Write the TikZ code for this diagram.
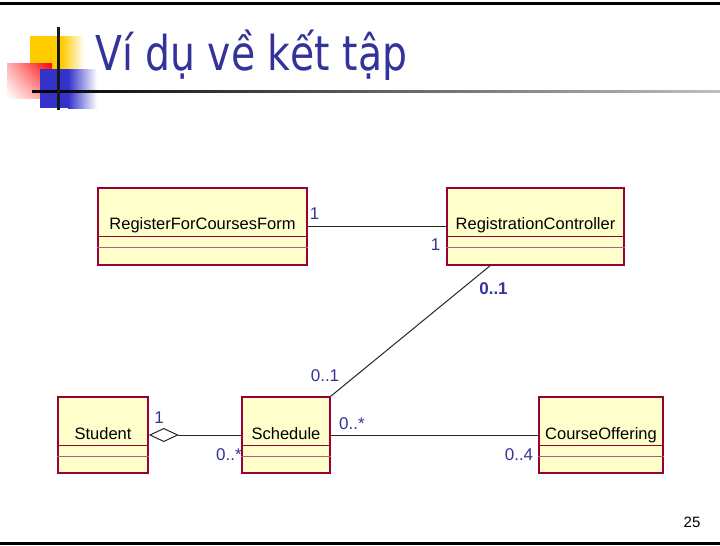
\documentclass[tikz,border=0pt]{standalone}
\usepackage{fontspec}
\setmainfont{Liberation Sans}
\newfontfamily\titlefont{DejaVu Sans}
\usetikzlibrary{arrows.meta,shadings}
\definecolor{umlfill}{HTML}{FFFFCC}
\definecolor{umlline}{HTML}{990033}
\definecolor{multblue}{HTML}{333399}
\definecolor{decoyellow}{HTML}{FFCC00}
\definecolor{decoblue}{HTML}{3333CC}
\tikzset{
  umlclass/.style={draw=umlline, fill=umlfill, line width=1.6pt, inner sep=0pt},
  umlname/.style={anchor=base, inner sep=0pt, font=\fontsize{16.5}{19}\selectfont},
  mult/.style={text=multblue, inner sep=0pt, font=\fontsize{17}{20}\selectfont},
  assoc/.style={draw=black!85, line width=1pt}
}

\begin{document}
\begin{tikzpicture}[x=1pt, y=-1pt]
  \useasboundingbox (0,0) rectangle (720,546);
  \fill[white] (0,0) rectangle (720,546);
  \fill[black] (0,2) rectangle (720,5);
  \fill[black] (0,542) rectangle (720,545);

  \fill[decoyellow] (30,36) rectangle (62,70);
  \shade[left color=decoyellow, right color=white] (62,36) rectangle (84,70);
  \shade[upper right=red, upper left=red!30, lower right=red!45, lower left=white] (7,63) rectangle (52,98);
  \fill[decoblue] (40,69) rectangle (68,108);
  \shade[left color=decoblue, right color=white] (68,69) rectangle (97,108);
  \shade[left color=black, right color=black!25] (32,90) rectangle (720,92.5);
  \fill[black!90] (57,27) rectangle (60,110);

  \node[anchor=base west, text=multblue, inner sep=0pt, xscale=0.82, transform shape,
        font=\titlefont\fontsize{48}{56}\selectfont] (title) at (95,70) {Ví dụ về kết tập};

  \node[umlclass, minimum width=209pt, minimum height=77pt] (rfc) at (202.5,226.5) {};
  \node[umlclass, minimum width=177pt, minimum height=77pt] (rc) at (535.5,226.5) {};
  \node[umlclass, minimum width=90pt, minimum height=76pt] (student) at (103,435) {};
  \node[umlclass, minimum width=88pt, minimum height=76pt] (schedule) at (286,435) {};
  \node[umlclass, minimum width=124pt, minimum height=76pt] (offering) at (601,435) {};

  \foreach \cls in {rfc,rc,student,schedule,offering} {
    \draw[umlline, line width=1.3pt] ([yshift=-49pt]\cls.north west) -- ([yshift=-49pt]\cls.north east);
    \draw[umlline!65, line width=1.3pt] ([yshift=-60pt]\cls.north west) -- ([yshift=-60pt]\cls.north east);
  }

  \node[umlname] (rfc-name) at ([yshift=-42pt]rfc.north) {RegisterForCoursesForm};
  \node[umlname] (rc-name) at ([yshift=-42pt]rc.north) {RegistrationController};
  \node[umlname] (student-name) at ([yshift=-43pt]student.north) {Student};
  \node[umlname] (schedule-name) at ([yshift=-43pt]schedule.north) {Schedule};
  \node[umlname] (offering-name) at ([yshift=-43pt]offering.north) {CourseOffering};

  \draw[assoc] (rfc) -- (rc);
  \draw[assoc] ([xshift=-45.5pt]rc.south) -- (schedule.north east);
  \draw[assoc, {Diamond[open, length=30pt, width=14pt, line width=1pt]}-] (student) -- (schedule);
  \draw[assoc] (schedule) -- (offering);

  \node[mult] (m-rfc) at (314.5,214) {1};
  \node[mult] (m-rc) at (435.5,244.5) {1};
  \node[mult] (m-rc-schedule) at (493.5,289) {\bfseries 0..1};
  \node[mult] (m-schedule-rc) at (325,376) {0..1};
  \node[mult] (m-student) at (159,417.5) {1};
  \node[mult] (m-schedule-student) at (229,455) {0..*};
  \node[mult] (m-schedule-offering) at (352,423.5) {0..*};
  \node[mult] (m-offering) at (519,455) {0..4};

  \node[inner sep=0pt, font=\fontsize{15}{18}\selectfont] (pagenum) at (692,522.5) {25};
\end{tikzpicture}
\end{document}
